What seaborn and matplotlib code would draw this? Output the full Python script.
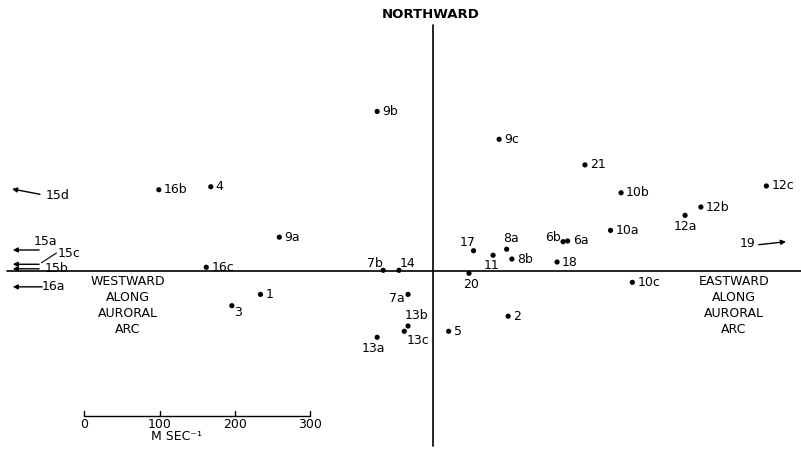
import matplotlib
matplotlib.use("Agg")
import matplotlib.pyplot as plt
import pandas as pd
import seaborn as sns

# Drift velocities (m/s): east component along the auroral arc, north component
labels = ["1", "2", "3", "4", "5", "6a", "6b", "7a", "7b", "8a", "8b",
          "9a", "9b", "9c", "10a", "10b", "10c", "11", "12a", "12b", "12c",
          "13a", "13b", "13c", "14", "16b", "16c", "17", "18", "20", "21"]
east = [-229, 100, -267, -295, 21, 179, 173, -33, -66, 98, 105,
        -204, -74, 88, 236, 250, 265, 80, 335, 356, 443,
        -74, -33, -38, -45, -364, -301, 54, 165, 48, 202]
north = [-31, -60, -46, 112, -80, 40, 39, -31, 1, 29, 16,
         45, 212, 175, 54, 104, -15, 21, 74, 85, 113,
         -88, -73, -80, 1, 108, 5, 27, 12, -3, 141]

# Events whose speed runs off the scale: arrow tail -> head, with label anchor
off_labels = ["15d", "15a", "15c", "15b", "16a", "19"]
off_tail = [(-522, 102), (-523, 28), (-523, 9), (-523, 3), (-519, -21), (433, 35)]
off_head = [(-559, 109), (-558, 28), (-558, 9), (-558, 3), (-558, -21), (469, 39)]
off_text = [(-514, 101), (-530, 39), (-498, 23), (-515, 4), (-519, -21), (407, 36)]

scale_ticks = [0, 100, 200, 300]

# Label placement around each dot, in pixels: (dx, dy, ha, va)
default_place = (5, 0, "left", "center")
place = {
    "12a": (0, -11, "center", "center"),
    "6b": (-2, 4, "right", "center"),
    "8a": (4, 11, "center", "center"),
    "11": (-2, -10, "center", "center"),
    "17": (-6, 8, "center", "center"),
    "20": (2, -11, "center", "center"),
    "14": (9, 7, "center", "center"),
    "7b": (-8, 7, "center", "center"),
    "7a": (-3, -4, "right", "center"),
    "13b": (8, 11, "center", "center"),
    "13c": (14, -9, "center", "center"),
    "13a": (-4, -11, "center", "center"),
    "3": (6, -7, "center", "center"),
}

sns.set_style("white")
plt.rcParams["font.family"] = ["DejaVu Sans"]

fig = plt.figure(figsize=(8.01, 4.51), dpi=100)
ax = fig.add_axes([0, 0, 1, 1])
ax.set_xlim(-575, 489)
ax.set_ylim(-239, 360)
ax.axis("off")

ink = "black"
fs = 9

# Cross-shaped axes
ax.plot([0, 0], [-233, 327], color=ink, lw=1.2)
ax.plot([-566, 489], [0, 0], color=ink, lw=1.2)

df = pd.DataFrame({"label": labels, "east": east, "north": north})
sns.scatterplot(data=df, x="east", y="north", color=ink, s=14,
                edgecolor="none", ax=ax, legend=False, zorder=3)

for lab, x, y in zip(labels, east, north):
    dx, dy, ha, va = place.get(lab, default_place)
    ax.annotate(lab, (x, y), xytext=(dx, dy), textcoords="offset pixels",
                ha=ha, va=va, fontsize=fs, color=ink)

for lab, t, h, p in zip(off_labels, off_tail, off_head, off_text):
    ax.annotate("", xy=h, xytext=t,
                arrowprops=dict(arrowstyle="-|>", color=ink, lw=1.0,
                                mutation_scale=7, shrinkA=0, shrinkB=0))
    ax.text(p[0], p[1], lab, ha="left", va="center", fontsize=fs, color=ink)

# leader from the 15c label to its arrow
ax.plot([-520, -500], [11, 24], color=ink, lw=0.8)

ax.text(-3, 341, "NORTHWARD", ha="center", va="center", fontsize=9.5,
        fontweight="bold", color=ink)
ax.text(-405, -46, "WESTWARD\nALONG\nAURORAL\nARC", ha="center", va="center",
        fontsize=9, color=ink, linespacing=1.3)
ax.text(400, -46, "EASTWARD\nALONG\nAURORAL\nARC", ha="center", va="center",
        fontsize=9, color=ink, linespacing=1.3)

# Velocity scale bar
x0, ybar = -463, -192
ax.plot([x0 + scale_ticks[0], x0 + scale_ticks[-1]], [ybar, ybar], color=ink, lw=1.0)
for t in scale_ticks:
    ax.plot([x0 + t, x0 + t], [ybar, ybar + 6], color=ink, lw=1.0)
    ax.text(x0 + t, ybar - 12, str(t), ha="center", va="center", fontsize=fs, color=ink)
ax.text(x0 + 122, ybar - 28, "M SEC\u207b\u00b9", ha="center", va="center",
        fontsize=fs, color=ink)

fig.savefig("out.png", dpi=100)
